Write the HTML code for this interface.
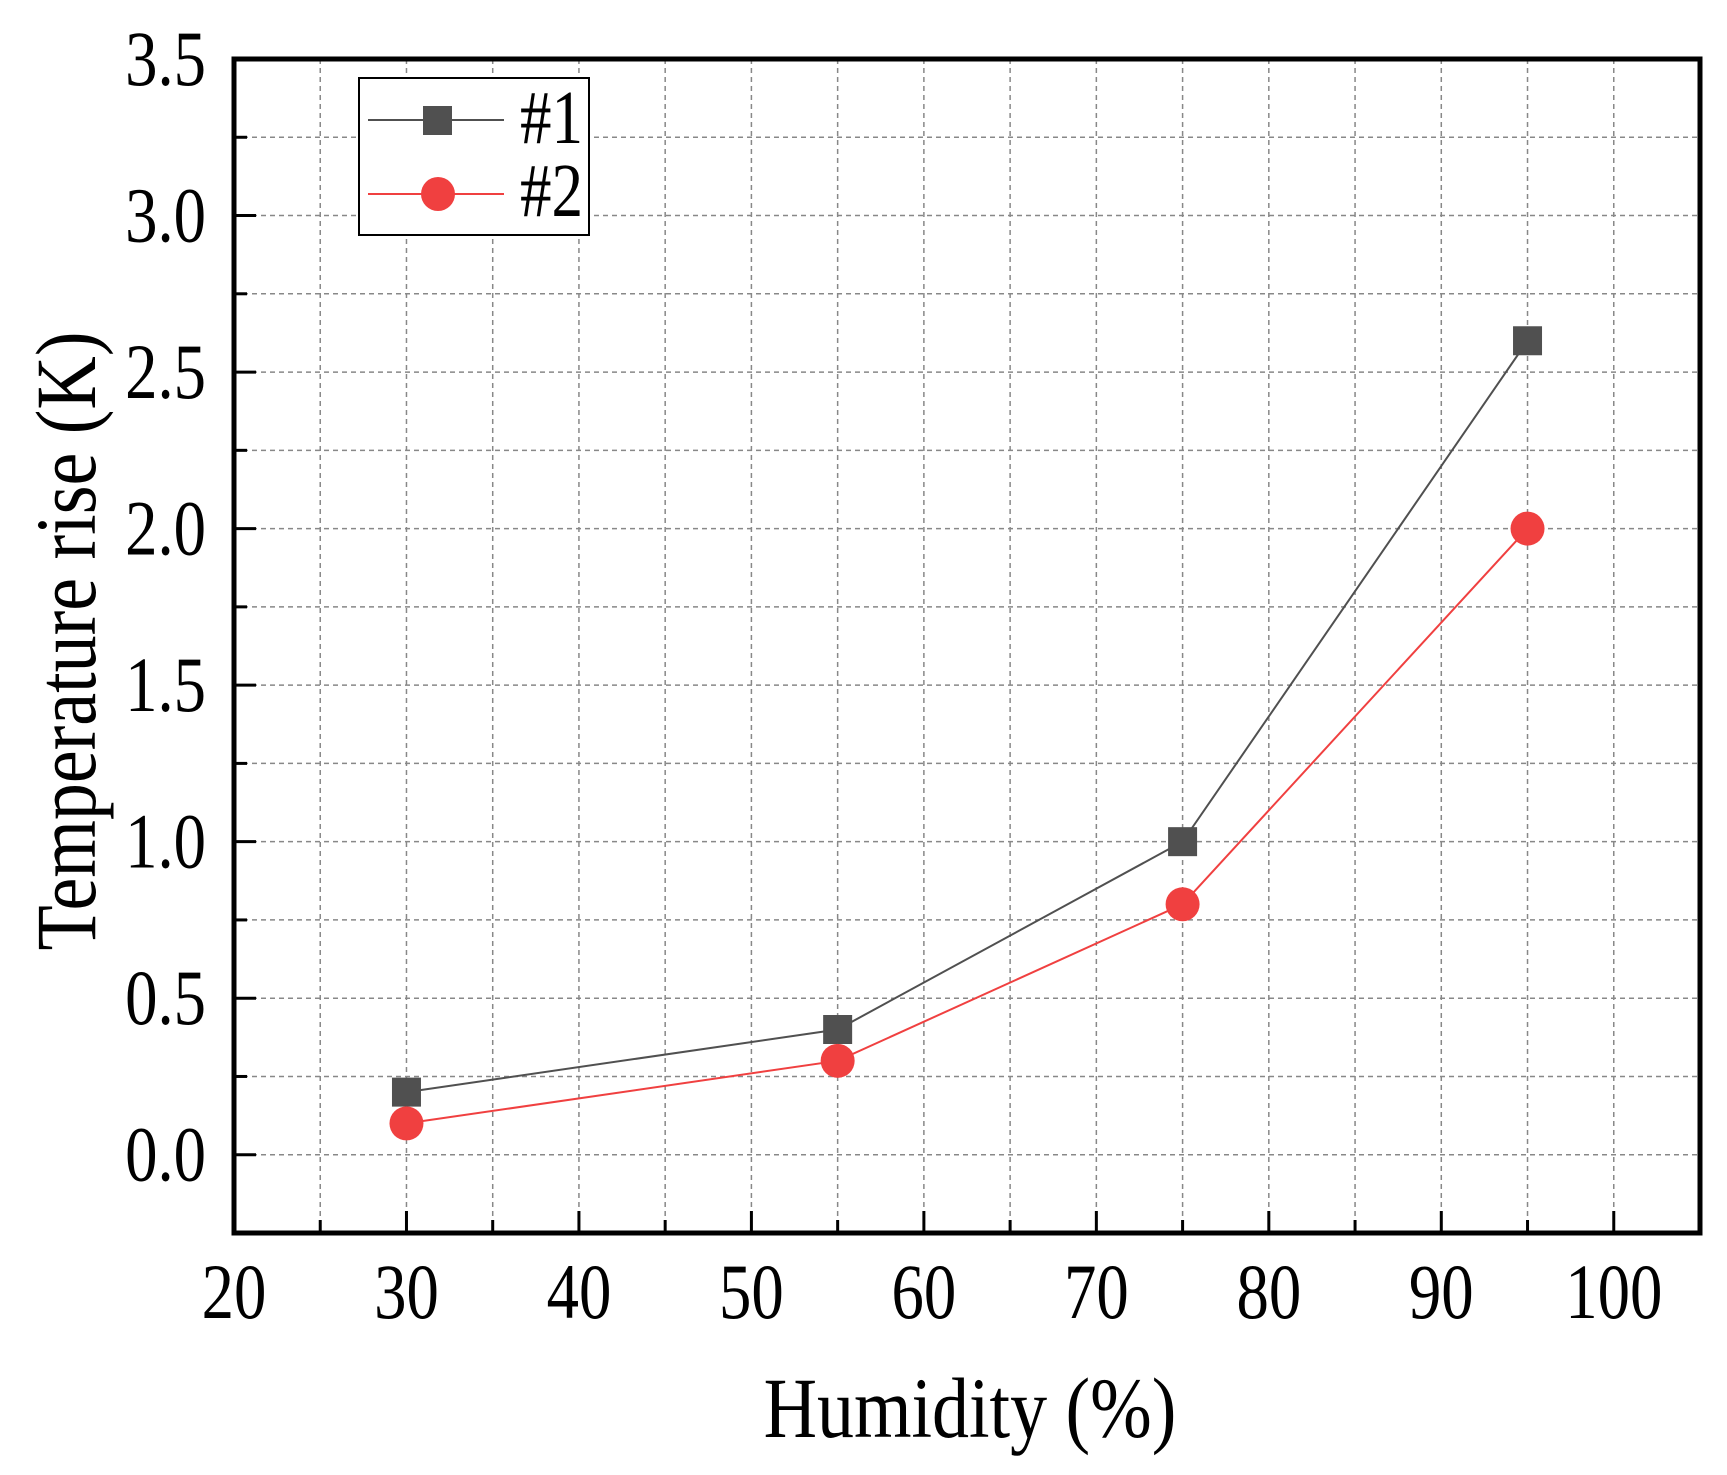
<!DOCTYPE html>
<html><head><meta charset="utf-8"><style>
body{margin:0;background:#fff}
svg text{font-family:"Liberation Serif",serif;fill:#000}
</style></head><body>
<svg id="c" width="1727" height="1470">
<g id="grid"></g>
<g id="ticks"></g>
<g id="series"></g>
<rect x="234" y="59" width="1466" height="1174" fill="none" stroke="#000" stroke-width="5"/>
<text font-size="86" text-anchor="middle" transform="translate(95,641) rotate(-90) scale(0.86,1)">Temperature rise (K)</text>
<text font-size="86" text-anchor="middle" transform="translate(970,1437) scale(0.86,1)">Humidity (%)</text>
<g>
<rect x="359" y="78" width="230" height="157" fill="#fff" stroke="#000" stroke-width="2"/>
<g>
<line x1="368" y1="120" x2="504" y2="120" stroke="#505050" stroke-width="2"/>
<rect x="423" y="106" width="29" height="29" fill="#505050"/>
<text font-size="76" transform="translate(520,143) scale(0.83,1)">#1</text></g>
<g>
<line x1="368" y1="194" x2="504" y2="194" stroke="#f04040" stroke-width="2"/>
<circle cx="438" cy="194" r="17" fill="#f04040"/>
<text font-size="76" transform="translate(520,216) scale(0.83,1)">#2</text></g>
</g>
</svg>
<script>
const xCats=[30,55,75,95];
const s1=[0.2,0.4,1.0,2.6];
const s2=[0.1,0.3,0.8,2.0];
const xTicks=[20,30,40,50,60,70,80,90,100];
const yTicks=[0.0,0.5,1.0,1.5,2.0,2.5,3.0,3.5];
const L=234,R=1700,T=59,B=1233,xmin=20,xmax=105,ymin=-0.25,ymax=3.5;
const sx=v=>L+(v-xmin)/(xmax-xmin)*(R-L);
const sy=v=>B-(v-ymin)/(ymax-ymin)*(B-T);
const NS='http://www.w3.org/2000/svg';
function mk(p,t,a){const e=document.createElementNS(NS,t);for(const k in a)e.setAttribute(k,a[k]);p.appendChild(e);return e;}
const g=document.getElementById('grid'),tk=document.getElementById('ticks'),se=document.getElementById('series');
for(let v=25;v<=100;v+=5){const x=sx(v);
 const l=mk(g,'line',{x1:x,y1:T,x2:x,y2:B,stroke:'#888','stroke-width':1.5,'stroke-dasharray':'5,4'});
 
 
 const t=mk(tk,'line',{x1:x,y1:B,x2:x,y2:B-(v%10==0?22:13),stroke:'#000','stroke-width':3});
 
 }
for(let v=0;v<=3.25;v+=0.25){const y=sy(v);
 const l=mk(g,'line',{x1:L,y1:y,x2:R,y2:y,stroke:'#888','stroke-width':1.5,'stroke-dasharray':'5,4'});
 
 
 const t=mk(tk,'line',{x1:L,y1:y,x2:L+(Math.abs(v*2-Math.round(v*2))<0.01?22:13),y2:y,stroke:'#000','stroke-width':3});
 
 }
xTicks.forEach(v=>{const t=mk(tk,'text',{'font-size':78,'text-anchor':'middle',transform:'translate('+sx(v)+',1318) scale(0.83,1)'});t.textContent=v;
 
 });
yTicks.forEach(v=>{const t=mk(tk,'text',{'font-size':78,'text-anchor':'end',transform:'translate(206,'+(sy(v)+26)+') scale(0.83,1)'});t.textContent=v.toFixed(1);
 
 });
function line(vals,col){const pts=xCats.map((x,i)=>sx(x)+','+sy(vals[i])).join(' ');
 return mk(se,'polyline',{points:pts,fill:'none',stroke:col,'stroke-width':2});}
const p1=line(s1,'#505050');


const p2=line(s2,'#f04040');


xCats.forEach((x,i)=>{const r=mk(se,'rect',{x:sx(x)-14.5,y:sy(s1[i])-14.5,width:29,height:29,fill:'#505050'});
 
 });
xCats.forEach((x,i)=>{const c=mk(se,'circle',{cx:sx(x),cy:sy(s2[i]),r:17,fill:'#f04040'});
 
 });
</script>
</body></html>
